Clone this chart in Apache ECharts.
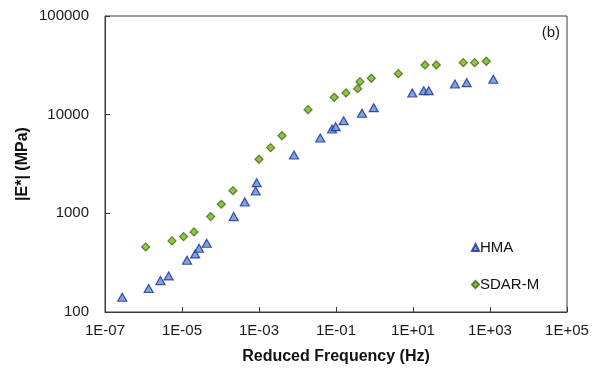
<!DOCTYPE html>
<html>
<head>
<meta charset="utf-8">
<script src="https://cdn.jsdelivr.net/npm/echarts@6/dist/echarts.min.js"></script>
<style>
html,body{margin:0;padding:0;background:#fff;}
#c{width:603px;height:373px;}
</style>
</head>
<body>
<div id="c"></div>
<script>
// Reduced frequency (Hz) and |E*| (MPa)
var hmaFreq = [2.8e-7, 1.36e-6, 2.75e-6, 4.5e-6, 1.35e-5, 2.2e-5, 2.77e-5, 4.37e-5, 2.2e-4, 4.27e-4, 8.2e-4, 8.7e-4, 8.1e-3, 3.9e-2, 7.9e-2, 9.8e-2, 0.158, 0.473, 0.955, 9.6, 19.0, 25.6, 123, 248, 1220];
var hmaModulus = [141, 173, 208, 232, 335, 388, 443, 498, 927, 1304, 1686, 2046, 3906, 5806, 7165, 7560, 8690, 10330, 11780, 16600, 17500, 17500, 20460, 21100, 22850];
var sdarFreq = [1.14e-6, 5.5e-6, 1.1e-5, 2.05e-5, 5.56e-5, 1.05e-4, 2.11e-4, 1.0e-3, 2.01e-3, 3.95e-3, 1.88e-2, 9.0e-2, 0.182, 0.366, 0.42, 0.826, 4.15, 20.5, 40.3, 202, 400, 802];
var sdarModulus = [457, 525, 581, 648, 927, 1236, 1698, 3530, 4630, 6120, 11240, 15000, 16600, 18350, 21600, 23370, 26040, 31900, 31900, 33650, 33650, 34750];
var xTickMin = 1e-7, xTickMax = 1e5;
var yTickMin = 100, yTickMax = 100000;

function pairs(xs, ys){ return xs.map(function(x,i){ return [x, ys[i]]; }); }
function expLabel(v){
  var e = Math.round(Math.log10(v));
  var a = Math.abs(e);
  return '1E' + (e < 0 ? '-' : '+') + (a < 10 ? '0' + a : '' + a);
}
var font = 'Liberation Sans, Arial, sans-serif';
var chart = echarts.init(document.getElementById('c'), null, {renderer:'canvas'});
chart.setOption({
  animation: false,
  backgroundColor: '#ffffff',
  grid: {left:105, right:36, top:16, bottom:61, show:true, borderColor:'#3a3a3a', borderWidth:1, backgroundColor:'transparent'},
  xAxis: {
    type:'log', logBase:10, min:xTickMin, max:xTickMax, interval:2,
    name:'Reduced Frequency (Hz)', nameLocation:'middle', nameGap:37,
    nameTextStyle:{fontFamily:font, fontSize:16, fontWeight:'bold', color:'#111'},
    axisLine:{show:true, lineStyle:{color:'#3a3a3a', width:1}},
    axisTick:{show:true, inside:true, length:5, lineStyle:{color:'#3a3a3a'}},
    axisLabel:{fontFamily:font, fontSize:15, color:'#1a1a1a', margin:11, formatter:expLabel},
    splitLine:{show:false}, minorTick:{show:false}
  },
  yAxis: {
    type:'log', logBase:10, min:yTickMin, max:yTickMax, interval:1,
    name:'|E*| (MPa)', nameLocation:'middle', nameGap:74, nameRotate:90, nameMoveOverlap:false,
    nameTextStyle:{fontFamily:font, fontSize:16, fontWeight:'bold', color:'#111'},
    axisLine:{show:true, lineStyle:{color:'#3a3a3a', width:1}},
    axisTick:{show:true, inside:true, length:5, lineStyle:{color:'#3a3a3a'}},
    axisLabel:{fontFamily:font, fontSize:15, color:'#1a1a1a', margin:16, formatter:function(v){return String(Math.round(v));}},
    splitLine:{show:false}
  },
  legend: {
    orient:'vertical', left:466, top:235, itemGap:22, itemWidth:7, itemHeight:7,
    textStyle:{fontFamily:font, fontSize:15, color:'#111', padding:[0,0,0,-4]},
    data:[{name:'HMA', icon:'triangle'},{name:'SDAR-M', icon:'diamond'}]
  },
  graphic: [{type:'text', right:43, top:25, style:{text:'(b)', fontFamily:font, fontSize:15, fill:'#1a1a1a'}}],
  series: [
    {name:'HMA', type:'scatter', symbol:'triangle', symbolSize:[9,8], data:pairs(hmaFreq, hmaModulus),
     itemStyle:{color:'#5b8ee0', borderColor:'#1f2a8c', borderWidth:1.2}},
    {name:'SDAR-M', type:'scatter', symbol:'diamond', symbolSize:[8,8], data:pairs(sdarFreq, sdarModulus),
     itemStyle:{color:'#78b31a', borderColor:'#3b6a0c', borderWidth:1.2}}
  ]
});
</script>
</body>
</html>
